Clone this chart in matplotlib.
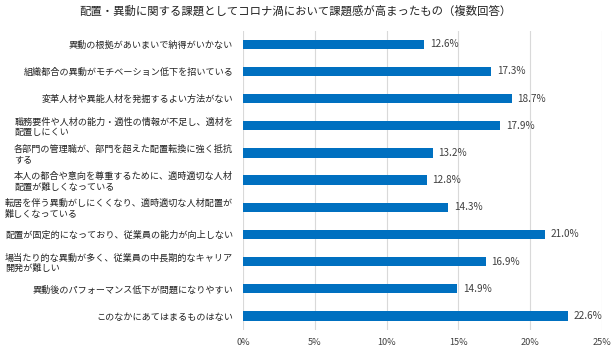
import matplotlib
matplotlib.use("Agg")
import matplotlib.pyplot as plt
import numpy as np

plt.rcParams['font.family'] = ['Noto Sans CJK JP', 'DejaVu Sans']

title = "配置・異動に関する課題としてコロナ渦において課題感が高まったもの（複数回答）"

labels = [
    "異動の根拠があいまいで納得がいかない",
    "組織都合の異動がモチベーション低下を招いている",
    "変革人材や異能人材を発掘するよい方法がない",
    "職務要件や人材の能力・適性の情報が不足し、適材を\n配置しにくい",
    "各部門の管理職が、部門を超えた配置転換に強く抵抗\nする",
    "本人の都合や意向を尊重するために、適時適切な人材\n配置が難しくなっている",
    "転居を伴う異動がしにくくなり、適時適切な人材配置が\n難しくなっている",
    "配置が固定的になっており、従業員の能力が向上しない",
    "場当たり的な異動が多く、従業員の中長期的なキャリア\n開発が難しい",
    "異動後のパフォーマンス低下が問題になりやすい",
    "このなかにあてはまるものはない",
]
values = [12.6, 17.3, 18.7, 17.9, 13.2, 12.8, 14.3, 21.0, 16.9, 14.9, 22.6]
x_ticks = [0, 5, 10, 15, 20, 25]

text_color = "#404040"

fig = plt.figure(figsize=(6.15, 3.47), dpi=100)
ax = fig.add_axes([0.395, 0.050, 0.584, 0.862])

y = np.arange(len(labels))
ax.barh(y, values, height=0.34, color="#0070C0", zorder=3)

for yi, v in zip(y, values):
    ax.text(v + 0.4, yi, f"{v:.1f}%", va="center", ha="left",
            fontsize=7.2, color=text_color)

ax.set_ylim(len(labels) - 0.5, -0.5)
ax.set_xlim(0, 25)
ax.set_xticks(x_ticks)
ax.set_xticklabels([f"{t}%" for t in x_ticks], fontsize=6.6, color=text_color)
ax.set_yticks(y)
ax.set_yticklabels(labels, fontsize=6.55, color="#222222",
                   multialignment="left", linespacing=1.2)
ax.tick_params(axis="both", length=0)
ax.tick_params(axis="y", pad=7)
ax.tick_params(axis="x", pad=6)

ax.grid(axis="x", color="#D9D9D9", linewidth=0.8, zorder=0)
for s in ax.spines.values():
    s.set_visible(False)

fig.text(0.48, 0.968, title, ha="center", va="center", fontsize=8.2, color="#222222")

fig.savefig("out.png", dpi=100)
